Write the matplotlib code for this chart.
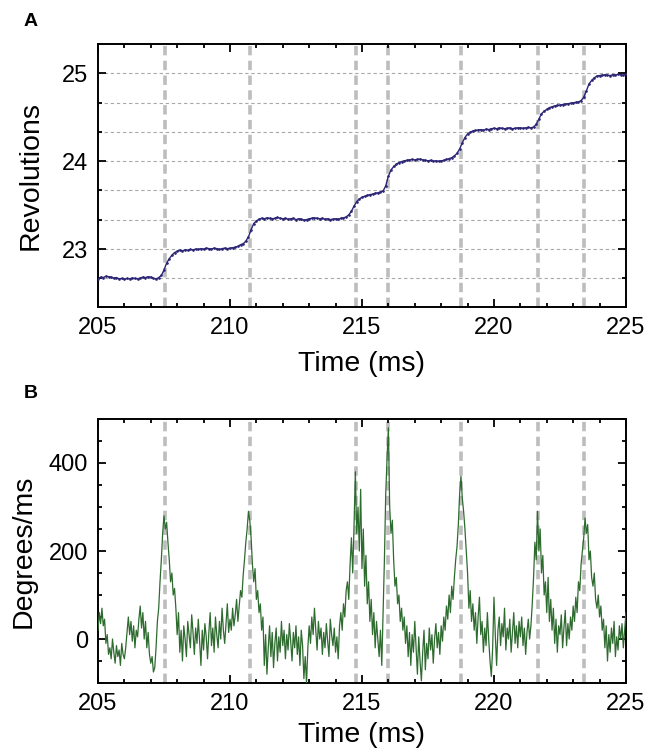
import numpy as np
import matplotlib
matplotlib.use("Agg")
import matplotlib.pyplot as plt
from matplotlib.ticker import MultipleLocator, FixedLocator

plt.rcParams['font.family'] = ['Liberation Sans', 'DejaVu Sans']

# ---------------- data ----------------
# Panel A: revolutions sampled every 0.1 ms from 205.0 to 225.0 ms
rev_t0, rev_dt = 205.0, 0.1
revolutions = [
    22.66, 22.68, 22.675, 22.69, 22.685, 22.68, 22.67, 22.675, 22.66, 22.665,
    22.655, 22.665, 22.66, 22.67, 22.665, 22.66, 22.67, 22.68, 22.675, 22.685,
    22.68, 22.665, 22.66, 22.675, 22.70, 22.76, 22.84, 22.89, 22.93, 22.96,
    22.975, 22.985, 22.98, 22.99, 22.985, 22.995, 22.99, 23.0, 22.995, 23.005,
    23.0, 23.01, 23.005, 23.0, 23.01, 23.005, 22.995, 23.005, 23.01, 23.005,
    23.01, 23.015, 23.02, 23.03, 23.05, 23.06, 23.09, 23.14, 23.22, 23.29,
    23.32, 23.34, 23.35, 23.345, 23.355, 23.35, 23.345, 23.35, 23.36, 23.35,
    23.345, 23.35, 23.34, 23.345, 23.35, 23.335, 23.345, 23.34, 23.33, 23.335,
    23.345, 23.35, 23.355, 23.35, 23.345, 23.35, 23.34, 23.345, 23.335, 23.34,
    23.345, 23.34, 23.35, 23.355, 23.365, 23.39, 23.43, 23.49, 23.54, 23.57,
    23.59, 23.60, 23.61, 23.62, 23.625, 23.635, 23.64, 23.65, 23.66, 23.72,
    23.83, 23.90, 23.94, 23.965, 23.985, 23.995, 24.005, 24.01, 24.015, 24.02,
    24.015, 24.02, 24.025, 24.015, 24.01, 24.005, 24.01, 24.0, 24.005, 24.0,
    24.005, 24.01, 24.02, 24.03, 24.04, 24.06, 24.09, 24.14, 24.21, 24.27,
    24.31, 24.33, 24.345, 24.35, 24.355, 24.36, 24.35, 24.365, 24.36, 24.37,
    24.375, 24.37, 24.38, 24.375, 24.37, 24.375, 24.38, 24.37, 24.375, 24.38,
    24.38, 24.375, 24.38, 24.385, 24.38, 24.39, 24.42, 24.48, 24.54, 24.57,
    24.59, 24.61, 24.62, 24.63, 24.635, 24.64, 24.645, 24.65, 24.655, 24.66,
    24.665, 24.67, 24.675, 24.69, 24.73, 24.80, 24.88, 24.92, 24.95, 24.97,
    24.975, 24.98, 24.985, 24.98, 24.975, 24.985, 24.98, 24.99, 24.985, 24.98,
    24.99,
]

# Panel B: angular velocity sampled every 0.05 ms from 205.00 to 225.00 ms
vel_t0, vel_dt = 205.0, 0.05
degrees_per_ms = [
    20, 60, 35, 70, 30, 45, -10, 10, -35, -20, -45, 0, -30, -55, -15, -40, -25, -60, -10, -35,
    -45, -20, 15, 50, 10, 40, -5, 30, -20, 20, 5, 45, 75, 25, 60, 0, 40, -20, 15, -35,
    -55, -40, -75, -65, -20, 40, 70, 130, 180, 240, 280, 250, 265, 220, 180, 130, 150, 100, 115, 70,
    10, 60, -30, 20, -50, 30, 0, -40, 40, 10, -20, 55, 15, -35, 25, -10, 45, -5, -60, 20,
    -25, 35, 5, -45, 15, 60, -15, 25, -30, 50, 10, -20, 40, 0, 70, 20, -10, 35, 80, 15,
    45, 20, 70, 30, 55, 90, 40, 75, 110, 95, 145, 180, 220, 250, 290, 270, 230, 170, 130, 160,
    90, 110, 60, 80, 20, 50, -60, 10, -80, -20, 30, -40, 15, -65, -10, 25, -50, 5, -30, 40,
    -15, 20, -45, 10, -25, 35, -5, -50, 15, -20, 30, -35, 5, -60, 20, -15, -90, -40, -100, -20,
    30, -10, 50, 10, 70, 20, -25, 40, 0, 25, -35, 15, -20, 35, -5, -40, 45, 10, -15, 25,
    -30, 5, -45, 30, 60, 20, 80, 50, 110, 130, 90, 170, 230, 150, 260, 380, 240, 300, 200, 340,
    160, 250, 120, 190, 80, 130, 40, 90, 10, 60, -20, 40, 0, -40, 20, -60, 60, 180, 330, 410,
    480, 300, 240, 270, 180, 120, 140, 80, 100, 40, 70, 20, 50, -10, 30, -40, 15, -60, 10, -30,
    40, -20, -80, 5, -50, -95, -30, 20, -70, -10, -45, 25, -25, 10, -55, 0, 35, -20, 15, -35,
    30, -5, 50, 20, 75, 45, 100, 60, 120, 90, 140, 180, 210, 260, 330, 370, 320, 290, 250, 200,
    150, 70, 110, 40, 80, 20, 60, -10, 50, 95, 10, 40, -30, 25, -15, 60, 0, -50, -85, -20,
    95, 10, -60, 20, 50, -15, 35, 5, 70, -25, 25, 0, 45, -30, 15, 60, -10, 30, -20, 40,
    5, 50, -15, 25, -35, 15, 45, 0, 30, 80, 140, 220, 180, 290, 200, 250, 150, 190, 100, 130,
    60, 140, 40, 90, 20, 70, -10, 45, -30, 30, 10, 55, -20, 25, 65, -15, 35, 0, 50, 20,
    75, 40, 95, 60, 130, 110, 170, 200, 230, 275, 240, 260, 180, 200, 140, 120, 150, 90, 70, 100,
    50, 75, 20, 45, -20, 30, -50, 10, -30, 25, -10, 40, -40, 5, -25, 30, 0, 35, -20, 20,
    60,
]

# Times of the steps (grey dashed markers)
event_times = [207.53, 210.76, 214.76, 215.98, 218.76, 221.65, 223.42]

# Axis ticks / labels
x_major_ticks = [205, 210, 215, 220, 225]
rev_major_ticks = [23, 24, 25]
vel_major_ticks = [0, 200, 400]

# ---------------- figure ----------------
rev_time = rev_t0 + rev_dt * np.arange(len(revolutions))
vel_time = vel_t0 + vel_dt * np.arange(len(degrees_per_ms))

fig = plt.figure(figsize=(6.48, 7.49), dpi=100)
axA = fig.add_axes([0.1512, 0.5901, 0.8148, 0.3512])
axB = fig.add_axes([0.1512, 0.0881, 0.8148, 0.3525])

event_style = dict(color='#bdbdbd', lw=2.6, linestyle=(0, (2.6, 1.5)), zorder=1)
tick_fs = 17
label_fs = 20.5

def style_axes(ax, xlabelpad):
    for s in ax.spines.values():
        s.set_linewidth(1.4)
    ax.tick_params(which='both', direction='in', top=True, right=True,
                   width=1.3, labelsize=tick_fs, pad=7)
    ax.tick_params(which='major', length=6)
    ax.tick_params(which='minor', length=3)
    ax.set_xlim(205, 225)
    ax.xaxis.set_major_locator(FixedLocator(x_major_ticks))
    ax.xaxis.set_minor_locator(MultipleLocator(1))
    ax.set_xlabel('Time (ms)', fontsize=label_fs, labelpad=xlabelpad)

# Panel A
for t in event_times:
    axA.axvline(t, **event_style)
thirds = [22 + 2 / 3 + k / 3 for k in range(8)]
for g in thirds:
    axA.axhline(g, color='#a8a8a8', lw=0.8, linestyle=(0, (3, 2.5)), zorder=0)
axA.plot(rev_time, revolutions, color='#2b2575', lw=1.0, zorder=3)
axA.plot(rev_time, revolutions, linestyle='none', marker='.', ms=1.8,
         color='#2b2575', zorder=3)
axA.set_ylim(22.34, 25.335)
axA.yaxis.set_major_locator(FixedLocator(rev_major_ticks))
axA.yaxis.set_minor_locator(FixedLocator(thirds))
axA.set_ylabel('Revolutions', fontsize=label_fs, labelpad=13)
style_axes(axA, 9)

# Panel B
for t in event_times:
    axB.axvline(t, **event_style)
axB.plot(vel_time, degrees_per_ms, color='#2e6b2f', lw=0.9, zorder=3)
axB.set_ylim(-100, 500)
axB.yaxis.set_major_locator(FixedLocator(vel_major_ticks))
axB.yaxis.set_minor_locator(MultipleLocator(50))
axB.set_ylabel('Degrees/ms', fontsize=label_fs, labelpad=9)
style_axes(axB, 5)

fig.text(0.036, 0.971, 'A', fontsize=14, fontweight='bold', va='center', ha='left')
fig.text(0.036, 0.474, 'B', fontsize=14, fontweight='bold', va='center', ha='left')

fig.savefig('out.png', dpi=100)
